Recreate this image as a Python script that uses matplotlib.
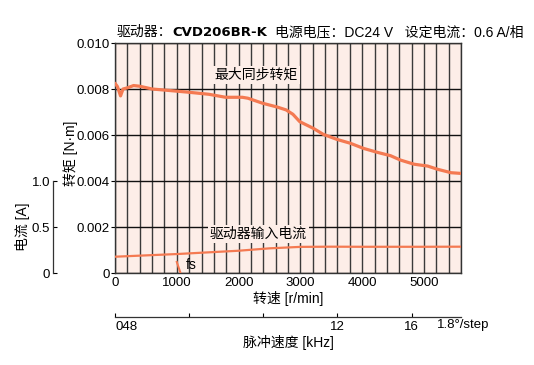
import matplotlib
matplotlib.use("Agg")
import matplotlib.pyplot as plt
from matplotlib import font_manager
from matplotlib.ticker import MultipleLocator

names = {f.name for f in font_manager.fontManager.ttflist}
NARROW = 'Liberation Sans Narrow' if 'Liberation Sans Narrow' in names else 'Liberation Sans'
CJK = 'Noto Sans CJK SC'
FAM = [NARROW, CJK, 'DejaVu Sans']
plt.rcParams['font.family'] = FAM

# ---- data ----
torque_rpm = [0, 40, 90, 130, 200, 300, 400, 600, 900, 1190, 1520, 1790, 2060, 2150,
              2390, 2620, 2770, 2880, 2990, 3210, 3370, 3590, 3810, 4020, 4240,
              4460, 4620, 4840, 5060, 5220, 5440, 5600]
torque_nm = [0.00825, 0.0081, 0.0077, 0.0080, 0.00805, 0.00815, 0.00812, 0.00800,
             0.00793, 0.00786, 0.00777, 0.00764, 0.00764, 0.00760,
             0.00738, 0.00722, 0.00709, 0.00690, 0.00658, 0.00629, 0.00603,
             0.00581, 0.00564, 0.00542, 0.00525, 0.00510, 0.00491, 0.00473,
             0.00465, 0.00451, 0.00436, 0.00433]
current_rpm = [0, 1000, 2000, 2500, 3000, 3500, 4000, 5000, 5600]
current_a = [0.177, 0.206, 0.242, 0.268, 0.284, 0.286, 0.285, 0.285, 0.286]
fs_rpm = [1000, 1060]
fs_nm = [0.00048, 0.0]
torque_ticks = [0, 0.002, 0.004, 0.006, 0.008, 0.010]
torque_ticklabels = ['0', '0.002', '0.004', '0.006', '0.008', '0.010']
rpm_ticks = [0, 1000, 2000, 3000, 4000, 5000]
current_ticks = [0, 0.5, 1.0]
current_ticklabels = ['0', '0.5', '1.0']
khz_ticks = [0, 4, 8, 12, 16]
khz_ticklabels = ['048', '', '', '12', '16']

W, H = 534, 365
fig = plt.figure(figsize=(W / 100, H / 100), dpi=100)
L, R, T, B = 115, 461, 43, 273
pos = [L / W, 1 - B / H, (R - L) / W, (B - T) / H]

BG = '#fdeee8'
ORANGE = '#f47a52'
FS = 10
TFS = 9.5

ax = fig.add_axes(pos)
ax.set_facecolor(BG)
ax.set_xlim(0, 5600)
ax.set_ylim(0, 0.010)
ax.xaxis.set_minor_locator(MultipleLocator(200))
ax.set_xticks(rpm_ticks)
ax.set_xticklabels([str(v) for v in rpm_ticks], fontsize=TFS)
ax.set_yticks(torque_ticks)
ax.set_yticklabels(torque_ticklabels, fontsize=TFS)
ax.tick_params(axis='x', which='both', length=0, pad=3)
ax.tick_params(axis='y', length=3, width=0.8, pad=1)
ax.grid(True, axis='x', which='both', color='#3a3a3a', lw=1.0)
ax.grid(True, axis='y', which='major', color='#111111', lw=1.0)
ax.set_axisbelow(True)
for s in ax.spines.values():
    s.set_color('#333333')
    s.set_linewidth(1.0)

ax.plot(torque_rpm, torque_nm, color=ORANGE, lw=2.3, solid_capstyle='round', zorder=3)
ax.plot(fs_rpm, fs_nm, color=ORANGE, lw=1.5, zorder=3)

ax.set_ylabel('转矩 [N·m]', fontsize=FS, family=FAM)
ax.yaxis.set_label_coords(-(L - 78) / (R - L), 0.52)
ax.set_xlabel('转速 [r/min]', fontsize=FS, family=FAM, labelpad=1)

bbox = dict(facecolor=BG, edgecolor='none', pad=1.5)
ax.text(2290, 0.00861, '最大同步转矩', fontsize=FS, ha='center', va='center', bbox=bbox, zorder=4)
ax.text(2320, 0.00170, '驱动器输入电流', fontsize=FS, ha='center', va='center', bbox=bbox, zorder=4)
ax.text(1234, 0.00035, 'fs', fontsize=FS, ha='center', va='center', zorder=4)

# current axis
axc = fig.add_axes(pos)
axc.patch.set_visible(False)
axc.set_xlim(0, 5600)
axc.set_ylim(0, 2.5)
axc.plot(current_rpm, current_a, color=ORANGE, lw=1.6, zorder=3)
axc.set_xticks([])
for k in ['top', 'right', 'bottom']:
    axc.spines[k].set_visible(False)
axc.spines['left'].set_position(('axes', -(L - 53) / (R - L)))
axc.spines['left'].set_bounds(0, 1.0)
axc.spines['left'].set_color('#333333')
axc.spines['left'].set_linewidth(0.9)
axc.set_yticks(current_ticks)
axc.set_yticklabels(current_ticklabels, fontsize=TFS)
axc.tick_params(axis='y', direction='in', length=3, width=0.8, pad=2)
axc.set_ylabel('电流 [A]', fontsize=FS, family=FAM)
axc.yaxis.set_label_coords(-(L - 30) / (R - L), 0.2)

# kHz axis
ky = 317
axk = fig.add_axes([L / W, 1 - ky / H, (R - L) / W, 0.001])
axk.patch.set_visible(False)
axk.set_xlim(0, 5600 / 300)
axk.set_yticks([])
for k in ['top', 'right', 'left']:
    axk.spines[k].set_visible(False)
axk.spines['bottom'].set_color('#333333')
axk.spines['bottom'].set_linewidth(0.9)
axk.set_xticks(khz_ticks)
axk.set_xticklabels(khz_ticklabels, fontsize=TFS)
axk.get_xticklabels()[0].set_ha('left')
axk.tick_params(axis='x', direction='in', length=3, width=0.8, pad=3)
axk.set_xlabel('脉冲速度 [kHz]', fontsize=FS, family=FAM, labelpad=1)
fig.text(437 / W, 1 - 325 / H, '1.8°/step', fontsize=TFS, ha='left', va='center')

# title pieces
fig.canvas.draw()
r = fig.canvas.get_renderer()
x0 = 117
ty = 1 - 32 / H
t1 = fig.text(x0 / W, ty, '驱动器：', fontsize=FS, ha='left', va='center', family=FAM)
e = t1.get_window_extent(r)
t2 = fig.text(e.x1 / W, ty, 'CVD206BR-K', fontsize=FS - 0.5, ha='left', va='center',
              family=['DejaVu Sans', CJK], fontweight='bold')
e = t2.get_window_extent(r)
t3 = fig.text((e.x1 + 8) / W, ty, '电源电压：DC24 V   设定电流：0.6 A/相', fontsize=FS,
              ha='left', va='center', family=FAM)

fig.savefig('out.png', dpi=100, facecolor='white')
